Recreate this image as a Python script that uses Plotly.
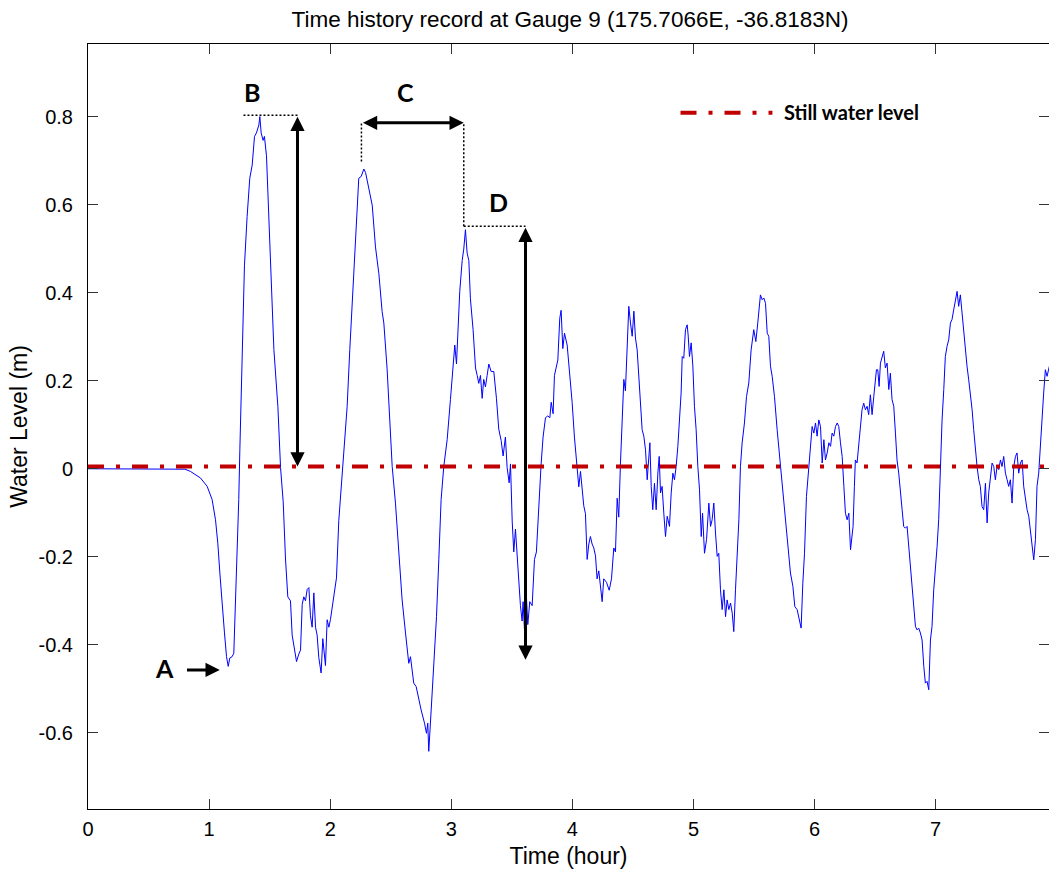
import plotly.graph_objects as go

# ---------------- data ----------------
time_hour = [
    0.000, 0.764, 0.800, 0.846, 0.929, 0.984, 1.025, 1.053, 1.072, 1.089, 1.108, 1.127, 1.144, 1.158,
    1.171, 1.190, 1.204, 1.218, 1.232, 1.245, 1.254, 1.265,
    1.273, 1.292, 1.314, 1.336, 1.356, 1.375, 1.391, 1.411, 1.419, 1.430, 1.446, 1.457, 1.474, 1.493,
    1.513, 1.535, 1.568, 1.590, 1.612, 1.631, 1.650, 1.672, 1.686, 1.705, 1.722, 1.741, 1.755, 1.769,
    1.782, 1.796, 1.810, 1.824, 1.837, 1.851, 1.865, 1.879, 1.892, 1.906, 1.925, 1.939, 1.961, 1.975,
    1.989, 2.002, 2.030, 2.052, 2.071, 2.090, 2.113, 2.140, 2.162, 2.187, 2.209, 2.223, 2.236, 2.256,
    2.278, 2.292, 2.319, 2.347, 2.374, 2.402, 2.429, 2.443, 2.470,
    2.512, 2.539, 2.567, 2.594, 2.622, 2.649, 2.663, 2.690, 2.710, 2.732, 2.751, 2.779, 2.795, 2.806,
    2.814, 2.834, 2.856, 2.878, 2.897, 2.916, 2.938, 2.966, 2.993,
    3.015, 3.029, 3.043, 3.054, 3.070, 3.090, 3.103, 3.117, 3.131, 3.145, 3.158, 3.180, 3.200, 3.214,
    3.227, 3.241, 3.255, 3.268, 3.282, 3.296, 3.310, 3.329, 3.351, 3.373, 3.392, 3.412, 3.428, 3.447,
    3.461, 3.478, 3.489, 3.503, 3.516, 3.530, 3.544, 3.558, 3.571, 3.585, 3.593, 3.604, 3.621, 3.632,
    3.648, 3.668, 3.687, 3.703, 3.723, 3.742, 3.758, 3.778, 3.797, 3.814, 3.825, 3.841, 3.852, 3.869,
    3.880, 3.896, 3.907, 3.921, 3.935, 3.957, 3.979, 3.998, 4.017, 4.039, 4.053, 4.067, 4.080, 4.094,
    4.108, 4.122, 4.136, 4.149, 4.163, 4.177, 4.191, 4.204, 4.218, 4.232, 4.246, 4.259, 4.282, 4.304,
    4.323, 4.342, 4.356, 4.370, 4.383, 4.397, 4.411, 4.425, 4.438, 4.452, 4.466,
    4.480, 4.494, 4.508, 4.521, 4.535, 4.549, 4.563, 4.576, 4.590, 4.604, 4.618, 4.631, 4.640, 4.651,
    4.664, 4.678, 4.692, 4.706, 4.717, 4.728, 4.741, 4.755, 4.769, 4.783, 4.802, 4.816, 4.830, 4.843,
    4.857, 4.871, 4.887, 4.898, 4.907, 4.920, 4.934, 4.948, 4.956, 4.967, 4.981, 4.995, 5.008, 5.022,
    5.036, 5.050, 5.064, 5.075, 5.091, 5.108, 5.127, 5.141, 5.154, 5.168, 5.182, 5.196, 5.209, 5.223,
    5.237, 5.251, 5.265, 5.278, 5.292, 5.306, 5.320, 5.333, 5.347, 5.361, 5.375, 5.388, 5.402, 5.421,
    5.438, 5.457, 5.476, 5.498, 5.515, 5.531, 5.542, 5.553, 5.567, 5.581, 5.595, 5.609, 5.622, 5.636,
    5.650, 5.669, 5.691, 5.719, 5.741, 5.760, 5.779, 5.801, 5.821, 5.837, 5.856, 5.876, 5.889, 5.903,
    5.917, 5.933, 5.953, 5.966, 5.980, 5.994, 6.008, 6.021, 6.035, 6.049, 6.063, 6.077, 6.090, 6.104,
    6.118, 6.132, 6.145, 6.159, 6.173, 6.187, 6.200, 6.214, 6.228, 6.242, 6.255, 6.269, 6.283, 6.297,
    6.318, 6.329, 6.337, 6.351, 6.365, 6.379, 6.392, 6.406, 6.420, 6.434, 6.447, 6.461, 6.475, 6.489,
    6.502, 6.511, 6.522, 6.533, 6.544, 6.557, 6.571, 6.585, 6.599, 6.613, 6.626, 6.640, 6.654, 6.668,
    6.681, 6.695, 6.709, 6.723, 6.736, 6.750, 6.764, 6.778, 6.791, 6.805, 6.819, 6.833, 6.846, 6.860,
    6.874, 6.888, 6.902, 6.915, 6.929, 6.943, 6.957, 6.970, 6.984, 6.998, 7.012, 7.025, 7.039, 7.053,
    7.067, 7.080, 7.094, 7.108, 7.122, 7.135, 7.149, 7.163, 7.177, 7.190, 7.204, 7.218, 7.232, 7.246,
    7.259, 7.273, 7.287, 7.301, 7.314, 7.328, 7.342, 7.356, 7.369, 7.383, 7.397, 7.411, 7.425, 7.438,
    7.452, 7.466, 7.480, 7.493, 7.507, 7.521, 7.535, 7.548, 7.562, 7.576, 7.590, 7.603, 7.617, 7.631,
    7.645, 7.659, 7.672, 7.686, 7.700, 7.714, 7.727, 7.741, 7.755, 7.769, 7.782, 7.796, 7.810, 7.824,
    7.837, 7.851, 7.865, 7.879, 7.892, 7.906, 7.920, 7.939,
]

water_level_m = [
    0.000, 0.000, -0.001, -0.006, -0.021, -0.040, -0.070, -0.116, -0.169, -0.237, -0.313, -0.373, -0.427, -0.449,
    -0.430, -0.427, -0.419, -0.313, -0.184, -0.070, 0.043, 0.157,
    0.271, 0.461, 0.573, 0.660, 0.690, 0.755, 0.763, 0.781, 0.800, 0.763, 0.746, 0.755, 0.711, 0.573,
    0.443, 0.271, 0.141, 0.003, -0.075, -0.205, -0.291, -0.300, -0.378, -0.412, -0.438, -0.421, -0.412, -0.308,
    -0.291, -0.300, -0.274, -0.270, -0.334, -0.360, -0.282, -0.360, -0.378, -0.429, -0.464, -0.386, -0.447, -0.343,
    -0.360, -0.343, -0.291, -0.248, -0.118, -0.040, 0.029, 0.141, 0.271, 0.400, 0.530, 0.599, 0.660, 0.664,
    0.681, 0.673, 0.634, 0.599, 0.504, 0.443, 0.357, 0.331, 0.227,
    0.005, -0.078, -0.184, -0.298, -0.373, -0.442, -0.427, -0.487, -0.495, -0.525, -0.548, -0.578, -0.601, -0.578,
    -0.642, -0.548, -0.449, -0.336, -0.207, -0.070, 0.005, 0.066, 0.157,
    0.229, 0.281, 0.238, 0.316, 0.403, 0.473, 0.499, 0.543, 0.490, 0.473, 0.386, 0.316, 0.229, 0.212,
    0.194, 0.212, 0.160, 0.203, 0.186, 0.212, 0.238, 0.221, 0.221, 0.160, 0.090, 0.064, 0.029, 0.072,
    0.003, -0.032, 0.011, -0.119, -0.189, -0.137, -0.206, -0.250, -0.311, -0.346, -0.302, -0.363, -0.293, -0.354,
    -0.302, -0.311, -0.206, -0.189, -0.076, 0.011, 0.072, 0.116, 0.120, 0.116, 0.151, 0.125, 0.212, 0.238,
    0.247, 0.342, 0.360, 0.273, 0.308, 0.281, 0.212, 0.151, 0.072, 0.011, -0.041, -0.006, -0.050, -0.084,
    -0.102, -0.206, -0.171, -0.154, -0.171, -0.180, -0.198, -0.250, -0.232, -0.276, -0.302, -0.250, -0.258, -0.276,
    -0.250, -0.180, -0.189, -0.067, -0.110, 0.011, 0.099, 0.203, 0.177, 0.273, 0.369,
    0.331, 0.301, 0.358, 0.297, 0.270, 0.210, 0.142, 0.089, 0.074, 0.043, -0.025, 0.036, 0.059, -0.040,
    -0.093, -0.033, -0.093, -0.010, 0.028, -0.055, -0.040, -0.101, -0.154, -0.108, -0.131, -0.055, -0.010, -0.025,
    0.005, 0.051, 0.112, 0.172, 0.255, 0.251, 0.316, 0.327, 0.304, 0.255, 0.286, 0.233, 0.142, 0.089,
    0.005, -0.048, -0.154, -0.101, -0.192, -0.161, -0.078, -0.131, -0.116, -0.078, -0.146, -0.199, -0.192, -0.275,
    -0.320, -0.275, -0.336, -0.298, -0.320, -0.305, -0.328, -0.370, -0.275, -0.199, -0.116, 0.005, 0.059, 0.104,
    0.164, 0.195, 0.270, 0.316, 0.289, 0.331, 0.373, 0.395, 0.384, 0.388, 0.376, 0.308, 0.301, 0.233,
    0.210, 0.164, 0.089, 0.005, -0.063, -0.131, -0.176, -0.237, -0.267, -0.313, -0.320, -0.343, -0.362, -0.260,
    -0.192, -0.063, 0.013, 0.059, 0.096, 0.081, 0.104, 0.074, 0.111, 0.096, 0.013, 0.066, 0.020, 0.036,
    0.059, 0.051, 0.081, 0.074, 0.096, 0.104, 0.096, 0.059, 0.028, -0.040, -0.101, -0.116, -0.101, -0.184,
    -0.131, -0.040, 0.020, 0.013, 0.059, 0.096, 0.134, 0.149, 0.134, 0.142, 0.123, 0.168, 0.123, 0.164,
    0.202, 0.225, 0.225, 0.187, 0.240, 0.255, 0.267, 0.229, 0.240, 0.180, 0.217, 0.157, 0.142, 0.081,
    0.020, -0.010, -0.063, -0.093, -0.131, -0.135, -0.131, -0.176, -0.237, -0.267, -0.320, -0.358, -0.366, -0.362,
    -0.373, -0.389, -0.449, -0.487, -0.483, -0.502, -0.389, -0.358, -0.275, -0.230, -0.176, -0.116, 0.005, 0.111,
    0.180, 0.255, 0.278, 0.293, 0.331, 0.339, 0.361, 0.384, 0.403, 0.369, 0.395, 0.354, 0.308, 0.270,
    0.233, 0.202, 0.172, 0.134, 0.089, 0.043, 0.005, -0.025, -0.040, -0.086, -0.093, -0.033, -0.123, -0.055,
    -0.025, 0.013, 0.005, -0.025, 0.005, -0.002, 0.020, 0.005, 0.028, -0.010, -0.025, -0.040, -0.025, -0.078,
    0.005, 0.028, 0.036, -0.010, 0.013, 0.020, -0.040, -0.070, -0.093, -0.108, -0.139, -0.169, -0.207, -0.161,
    -0.040, -0.010, 0.059, 0.126, 0.172, 0.225, 0.210, 0.233,
]

still_water_level = 0.005
x_range = [0, 7.936]
y_range = [-0.773, 0.965]
x_ticks = [0, 1, 2, 3, 4, 5, 6, 7]
y_ticks = [-0.6, -0.4, -0.2, 0, 0.2, 0.4, 0.6, 0.8]
y_tick_text = ["-0.6", "-0.4", "-0.2", "0", "0.2", "0.4", "0.6", "0.8"]

# annotation markers (hour, metre)
peak_B = (1.284, 0.803)
arrow_B_x = 1.730
peak_C1 = (2.258, 0.698)
peak_C2 = (3.103, 0.551)
arrow_C_y = 0.786
arrow_D_x = 3.613
arrow_D_bottom = -0.434
arrow_A = (0.805, 1.088, -0.457)
labels = {"A": (0.632, -0.452), "B": (1.354, 0.856), "C": (2.622, 0.855), "D": (3.390, 0.607)}
legend_line = (4.893, 5.652, 0.809)
legend_text = "Still water level"

RED = "#C00000"
DASHDOT = "16px,12px,4px,12px"
LBL_FONT = dict(family="Lato, 'Open Sans', sans-serif", size=25, color="black")
AX_FONT = "Liberation Sans, Arial, sans-serif"

fig = go.Figure()
fig.add_trace(go.Scatter(x=time_hour, y=water_level_m, mode="lines",
                         line=dict(color="#0000FF", width=1), showlegend=False))
fig.add_trace(go.Scatter(x=[x_range[0], x_range[1]], y=[still_water_level, still_water_level],
                         mode="lines", line=dict(color=RED, width=4, dash=DASHDOT),
                         showlegend=False))

# custom legend (line sample + bold text)
fig.add_trace(go.Scatter(x=[legend_line[0], legend_line[1]], y=[legend_line[2], legend_line[2]],
                         mode="lines", line=dict(color=RED, width=4, dash=DASHDOT),
                         showlegend=False, hoverinfo="skip"))
fig.add_annotation(x=legend_line[1] + 0.078, y=legend_line[2] + 0.002, text="<b>%s</b>" % legend_text,
                   showarrow=False, xanchor="left", yanchor="middle",
                   font=dict(family="Lato, 'Open Sans', sans-serif", size=20, color="black"))

dot_line = dict(color="black", width=1.5, dash="2px,2px")
# dotted guides
fig.add_shape(type="line", x0=peak_B[0], x1=arrow_B_x, y0=peak_B[1], y1=peak_B[1], line=dot_line)
fig.add_shape(type="line", x0=peak_C1[0], x1=peak_C1[0], y0=peak_C1[1], y1=arrow_C_y, line=dot_line)
fig.add_shape(type="line", x0=peak_C2[0], x1=peak_C2[0], y0=peak_C2[1], y1=arrow_C_y, line=dot_line)
fig.add_shape(type="line", x0=peak_C2[0], x1=arrow_D_x, y0=peak_C2[1], y1=peak_C2[1], line=dot_line)

arrow_common = dict(text="", showarrow=True, axref="x", ayref="y", arrowcolor="black",
                    arrowwidth=3, arrowhead=2, arrowsize=0.95, standoff=0, startstandoff=0)
# B: vertical double arrow
fig.add_annotation(x=arrow_B_x, y=still_water_level, ax=arrow_B_x, ay=peak_B[1],
                   arrowside="end+start", startarrowhead=2, startarrowsize=0.95, **arrow_common)
# C: horizontal double arrow
fig.add_annotation(x=peak_C2[0], y=arrow_C_y, ax=peak_C1[0], ay=arrow_C_y,
                   arrowside="end+start", startarrowhead=2, startarrowsize=0.95, **arrow_common)
# D: vertical double arrow
fig.add_annotation(x=arrow_D_x, y=arrow_D_bottom, ax=arrow_D_x, ay=peak_C2[1],
                   arrowside="end+start", startarrowhead=2, startarrowsize=0.95, **arrow_common)
# A: single arrow
fig.add_annotation(x=arrow_A[1], y=arrow_A[2], ax=arrow_A[0], ay=arrow_A[2], **arrow_common)

for name, (lx, ly) in labels.items():
    fig.add_annotation(x=lx, y=ly, text="<b>%s</b>" % name, showarrow=False,
                       xanchor="center", yanchor="middle", font=LBL_FONT)

axis_common = dict(showline=True, linecolor="black", linewidth=1, mirror="ticks",
                   ticks="inside", ticklen=10, tickwidth=1, tickcolor="#333333",
                   showgrid=False, zeroline=False,
                   tickfont=dict(family=AX_FONT, size=20, color="black"))

fig.update_layout(
    width=1049, height=870,
    margin=dict(l=88, r=0, t=44, b=61),
    plot_bgcolor="white", paper_bgcolor="white",
    title=dict(text="Time history record at Gauge 9 (175.7066E, -36.8183N)",
               x=0.5434, xanchor="center", y=1 - 19 / 870, yanchor="middle",
               font=dict(family=AX_FONT, size=22.5, color="black")),
    xaxis=dict(range=x_range, tickvals=x_ticks, **axis_common,
               ticklabelstandoff=2,
               title=dict(text="Time (hour)", font=dict(family=AX_FONT, size=23, color="black"),
                          standoff=8)),
    yaxis=dict(range=y_range, tickvals=y_ticks, ticktext=y_tick_text, **axis_common,
               ticklabelstandoff=10,
               title=dict(text="Water Level (m)", font=dict(family=AX_FONT, size=23, color="black"),
                          standoff=4)),
    showlegend=False,
)

fig.write_html("out.html")
